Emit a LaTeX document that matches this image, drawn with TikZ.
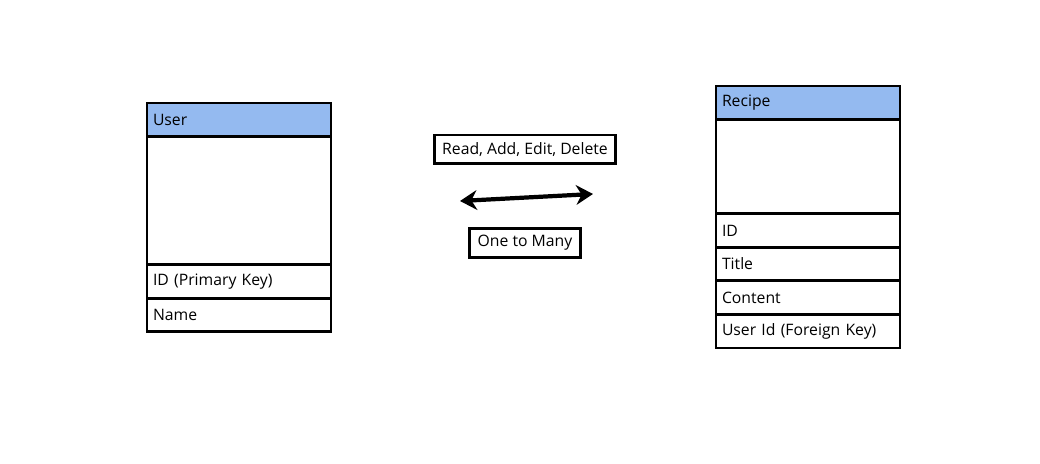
\documentclass[tikz,border=0pt]{standalone}
\usepackage{fontspec}
\setmainfont{Open Sans}
\usetikzlibrary{positioning,arrows.meta}

\definecolor{headblue}{RGB}{148,186,240}

\tikzset{
    row/.style={draw, line width=2pt, outer sep=0pt, minimum width=4.6cm,
        minimum height=0.84cm, text width=4.3cm, inner xsep=0.15cm,
        align=left, font=\fontsize{11.2}{13}\selectfont},
    header/.style={row, fill=headblue},
    blank/.style={row, minimum height=#1},
    label/.style={draw, line width=2pt, inner xsep=0.2cm, minimum height=0.72cm,
        font=\fontsize{11.2}{13}\selectfont}
}

\begin{document}
\begin{tikzpicture}[x=0.025cm, y=-0.025cm]
        \useasboundingbox (0,0) rectangle (1040,464);

        % User table
        \node[header, anchor=north west] (user) at (147,103) {User};
        \node[blank=3.2cm, below=0pt of user] (userbody) {};
        \node[row, below=0pt of userbody] (userid) {ID (Primary Key)};
        \node[row, below=0pt of userid] (username) {Name};

        % Recipe table
        \node[header, anchor=north west] (recipe) at (716,86) {Recipe};
        \node[blank=2.35cm, below=0pt of recipe] (recipebody) {};
        \node[row, below=0pt of recipebody] (recipeid) {ID};
        \node[row, below=0pt of recipeid] (recipetitle) {Title};
        \node[row, below=0pt of recipetitle] (recipecontent) {Content};
        \node[row, below=0pt of recipecontent] (recipeuser) {User Id (Foreign Key)};

        % Relation between the tables
        \node[label] (ops) at (525,149.5) {Read, Add, Edit, Delete};
        \coordinate (arrowL) at (460,201);
        \coordinate (arrowR) at (593,194);
        \draw[{Stealth[length=12pt,width=14pt]}-{Stealth[length=12pt,width=14pt]}, line width=3pt]
            (arrowL) -- (arrowR);
        \node[label] (card) at (525,243) {One to Many};
    \end{tikzpicture}
\end{document}
